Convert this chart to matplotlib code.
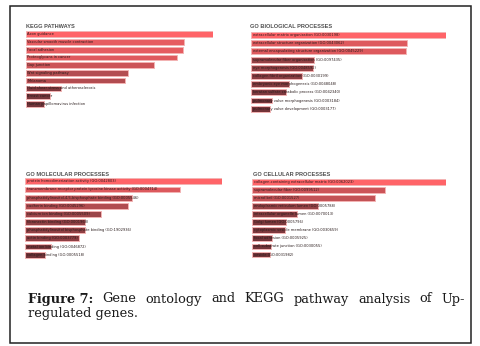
import numpy as np
import matplotlib.pyplot as plt
from matplotlib.colors import LinearSegmentedColormap
from matplotlib.patches import Rectangle

# --- data (combined scores) ---
kegg_terms = ["Axon guidance", "Vascular smooth muscle contraction", "Focal adhesion",
              "Proteoglycans in cancer", "Gap junction", "Wnt signaling pathway", "Melanoma",
              "Fluid shear stress and atherosclerosis", "Breast cancer",
              "Human papillomavirus infection"]
kegg_scores = [187, 158, 157, 151, 128, 102, 99, 35, 24, 18]

bp_terms = ["extracellular matrix organization (GO:0030198)",
            "extracellular structure organization (GO:0043062)",
            "external encapsulating structure organization (GO:0045229)",
            "supramolecular fiber organization (GO:0097435)",
            "eye morphogenesis (GO:0048592)",
            "collagen fibril organization (GO:0030199)",
            "embryonic eye morphogenesis (GO:0048048)",
            "keratan sulfate catabolic process (GO:0042340)",
            "pulmonary valve morphogenesis (GO:0003184)",
            "pulmonary valve development (GO:0003177)"]
bp_scores = [195, 156, 155, 63, 62, 51, 38, 35, 21, 19]

mf_terms = ["protein homodimerization activity (GO:0042803)",
            "transmembrane receptor protein tyrosine kinase activity (GO:0004714)",
            "phosphatidylinositol-4,5-bisphosphate binding (GO:0005546)",
            "cadherin binding (GO:0045296)",
            "calcium ion binding (GO:0005509)",
            "fibronectin binding (GO:0001968)",
            "phosphatidylinositol bisphosphate binding (GO:1902936)",
            "actin binding (GO:0003779)",
            "metal ion binding (GO:0046872)",
            "collagen binding (GO:0005518)"]
mf_scores = [197, 155, 107, 103, 76, 60, 60, 54, 26, 20]

cc_terms = ["collagen-containing extracellular matrix (GO:0062023)",
            "supramolecular fiber (GO:0099512)",
            "microfibril (GO:0001527)",
            "endoplasmic reticulum lumen (GO:0005788)",
            "intracellular organelle lumen (GO:0070013)",
            "Golgi lumen (GO:0005796)",
            "cytoplasmic vesicle membrane (GO:0030659)",
            "focal adhesion (GO:0005925)",
            "cell-substrate junction (GO:0030055)",
            "vesicle (GO:0031982)"]
cc_scores = [194, 133, 123, 66, 45, 34, 33, 20, 19, 18]

panel_titles = ["KEGG PATHWAYS", "GO BIOLOGICAL PROCESSES",
                "GO MOLECULAR PROCESSES", "GO CELLULAR PROCESSES"]

W, H = 480, 346
fig = plt.figure(figsize=(4.8, 3.46), dpi=100)

cmap = LinearSegmentedColormap.from_list("enr", ["#652f34", "#ad4b4f", "#ff6468"])


def px(x, y, w, h):
    # pixel box (top-left origin) -> figure fraction
    return [x / W, 1 - (y + h) / H, w / W, h / H]


def panel(box, title, title_xy, terms, scores):
    ax = fig.add_axes(px(*box))
    y = np.arange(len(terms))
    s = np.array(scores, dtype=float)
    cols = cmap(s / s.max())
    ax.barh(y, s, height=0.72, color=cols, edgecolor="#f3b4b4", linewidth=0.7)
    for yi, t in zip(y, terms):
        ax.text(s.max() * 0.008, yi, t, va="center", ha="left",
                fontsize=2.6, color="#2a1c1c")
    ax.set_xlim(0, s.max())
    ax.set_ylim(len(terms) - 0.5, -0.5)
    ax.axis("off")
    fig.text(title_xy[0] / W, 1 - title_xy[1] / H, title, fontsize=4.1,
             fontweight="bold", color="#505050", va="center", ha="left",
             family="Liberation Sans")


panel((26, 30.4, 187, 77.4), panel_titles[0], (26.5, 26.5), kegg_terms, kegg_scores)
panel((251, 30.9, 195, 81.9), panel_titles[1], (250, 26.5), bp_terms, bp_scores)
panel((25, 177.2, 197, 81.6), panel_titles[2], (26, 174), mf_terms, mf_scores)
panel((252, 177.6, 194, 81.0), panel_titles[3], (253, 174.3), cc_terms, cc_scores)

# frame
fig.patches.append(Rectangle((10 / W, 1 - 343 / H), 461 / W, 337.5 / H,
                             transform=fig.transFigure, fill=False,
                             edgecolor="#222222", linewidth=1.1))

# caption, first line justified
line1 = ["Figure 7:", "Gene", "ontology", "and", "KEGG", "pathway", "analysis", "of", "Up-"]
cap_fs = 9.3
fig.canvas.draw()
r = fig.canvas.get_renderer()
words = []
for i, wd in enumerate(line1):
    wt = "bold" if i == 0 else "normal"
    t = fig.text(0, 1 - 299 / H, wd, fontsize=cap_fs, family="DejaVu Serif",
                 fontweight=wt, va="center", ha="left", color="#1a1a1a")
    words.append(t)
widths = [t.get_window_extent(r).width for t in words]
x0, x1 = 28, 465
gap = (x1 - x0 - sum(widths)) / (len(words) - 1)
x = x0
for t, wdt in zip(words, widths):
    t.set_x(x / W)
    x += wdt + gap
fig.text(28 / W, 1 - 313.5 / H, "regulated genes.", fontsize=cap_fs,
         family="DejaVu Serif", va="center", ha="left", color="#1a1a1a")

fig.savefig("out.png", dpi=100)
